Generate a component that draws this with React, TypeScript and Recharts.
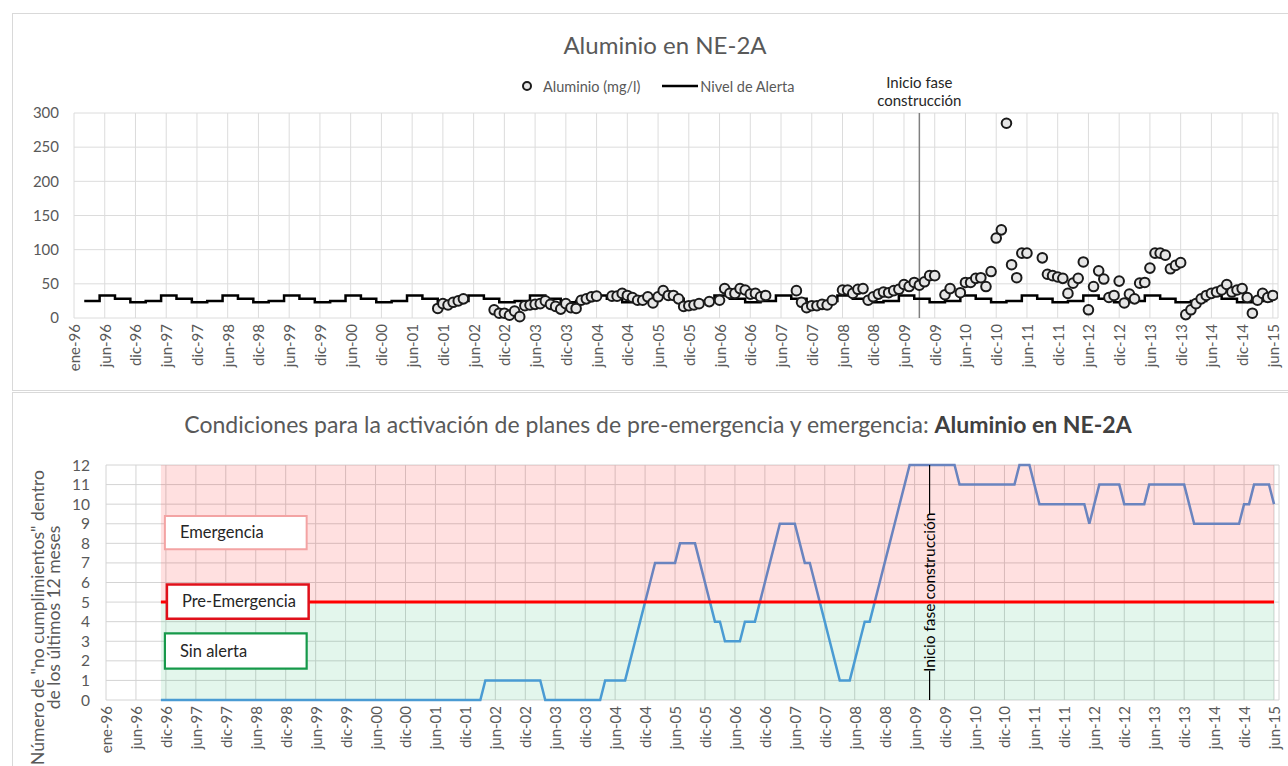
import React from "react"
import {
  ComposedChart,
  Line,
  Scatter,
  XAxis,
  YAxis,
  CartesianGrid,
  ReferenceLine,
  ReferenceArea
} from "recharts"

const FONT = "Lato, 'Open Sans', sans-serif"
const GRIS = "#595959"

// eje X: mes 0 = ene-96, una etiqueta cada 6 meses
const etiquetasX = [
  "ene-96", "jun-96", "dic-96", "jun-97", "dic-97", "jun-98", "dic-98", "jun-99", "dic-99",
  "jun-00", "dic-00", "jun-01", "dic-01", "jun-02", "dic-02", "jun-03", "dic-03", "jun-04",
  "dic-04", "jun-05", "dic-05", "jun-06", "dic-06", "jun-07", "dic-07", "jun-08", "dic-08",
  "jun-09", "dic-09", "jun-10", "dic-10", "jun-11", "dic-11", "jun-12", "dic-12", "jun-13",
  "dic-13", "jun-14", "dic-14", "jun-15"
]
const ticksX = etiquetasX.map((_, i) => i * 6)
const ticksAl = [0, 50, 100, 150, 200, 250, 300]
const ticksInc = [0, 1, 2, 3, 4, 5, 6, 7, 8, 9, 10, 11, 12]

const mesInicioObra = 165 // oct-09

// Aluminio (mg/l), mensual desde dic-01 (mes 71); null = sin muestra
const inicioAluminio = 71
const aluminio = [
  14, 21, 19, 23, 25, 28, null, null, null, null, null, 12, // dic-01 .. nov-02
  7, 7, 4, 10, 2, 18, 19, 20, 21, 25, 20, 17,               // dic-02 .. nov-03
  13, 21, 15, 14, 26, 28, 31, 32, null, null, 32, 32,       // dic-03 .. nov-04
  36, 33, 30, 26, 26, 31, 22, 31, 40, 33, 33, 28,           // dic-04 .. nov-05
  17, 18, 19, 21, null, 24, null, 26, 43, 36, 36, 43,       // dic-05 .. nov-06
  41, 35, 36, 31, 33, null, null, null, null, null, 40, 23, // dic-06 .. nov-07
  15, 18, 18, 20, 19, 26, null, 41, 41, 36, 42, 43,         // dic-07 .. nov-08
  26, 31, 35, 38, 37, 40, 42, 49, 46, 52, 48, 53,           // dic-08 .. nov-09
  62, 62, null, 34, 43, null, 37, 52, 52, 58, 59, 46,       // dic-09 .. nov-10
  68, 117, 129, 285, 78, 59, 95, 95, null, null, 88, 64,    // dic-10 .. nov-11
  62, 60, 58, 36, 51, 58, 82, 12, 46, 69, 57, 30,           // dic-11 .. nov-12
  33, 54, 22, 35, 28, 51, 52, 73, 95, 95, 92, 72,           // dic-12 .. nov-13
  77, 81, 5, 12, 21, 28, 33, 36, 38, 41, 49, 38,            // dic-13 .. nov-14
  41, 43, 30, 7, 26, 36, 30, 33                             // dic-14 .. jun-15
]

// Nivel de alerta estacional (mar-may, jun-ago, sep-nov, dic-feb), desde mar-96
const inicioAlerta = 2
const nivelAlerta = [
  25, 33, 28, 23, // 1996
  25, 33, 28, 23, // 1997
  25, 33, 28, 23, // 1998
  25, 33, 28, 23, // 1999
  25, 33, 28, 23, // 2000
  25, 33, 28, 23, // 2001
  25, 33, 28, 23, // 2002
  25, 33, 28, 23, // 2003
  25, 33, 28, 23, // 2004
  25, 33, 28, 23, // 2005
  25, 33, 28, 23, // 2006
  25, 33, 28, 23, // 2007
  25, 33, 28, 23, // 2008
  25, 33, 28, 23, // 2009
  25, 33, 28, 23, // 2010
  25, 33, 28, 23, // 2011
  25, 33, 28, 23, // 2012
  25, 33, 28, 23, // 2013
  25, 33, 28, 23, // 2014
  25              // 2015
]
const mesFinal = 234

// Nº de "no cumplimientos" en los últimos 12 meses, mensual desde dic-96 (mes 11)
const inicioIncumplimientos = 11
const incumplimientos = [
  0,                                      // dic-96
  0, 0, 0, 0, 0, 0, 0, 0, 0, 0, 0, 0,     // 1997
  0, 0, 0, 0, 0, 0, 0, 0, 0, 0, 0, 0,     // 1998
  0, 0, 0, 0, 0, 0, 0, 0, 0, 0, 0, 0,     // 1999
  0, 0, 0, 0, 0, 0, 0, 0, 0, 0, 0, 0,     // 2000
  0, 0, 0, 0, 0, 0, 0, 0, 0, 0, 0, 0,     // 2001
  0, 0, 0, 0, 1, 1, 1, 1, 1, 1, 1, 1,     // 2002
  1, 1, 1, 1, 0, 0, 0, 0, 0, 0, 0, 0,     // 2003
  0, 0, 0, 0, 1, 1, 1, 1, 1, 2, 3, 4,     // 2004
  5, 6, 7, 7, 7, 7, 7, 8, 8, 8, 8, 7,     // 2005
  6, 5, 4, 4, 3, 3, 3, 3, 4, 4, 4, 5,     // 2006
  6, 7, 8, 9, 9, 9, 9, 8, 7, 7, 6, 5,     // 2007
  4, 3, 2, 1, 1, 1, 2, 3, 4, 4, 5, 6,     // 2008
  7, 8, 9, 10, 11, 12, 12, 12, 12, 12, 12, 12, // 2009
  12, 12, 12, 11, 11, 11, 11, 11, 11, 11, 11, 11, // 2010
  11, 11, 11, 12, 12, 12, 11, 10, 10, 10, 10, 10, // 2011
  10, 10, 10, 10, 10, 9, 10, 11, 11, 11, 11, 11,  // 2012
  10, 10, 10, 10, 10, 11, 11, 11, 11, 11, 11, 11, // 2013
  11, 10, 9, 9, 9, 9, 9, 9, 9, 9, 9, 9,           // 2014
  10, 10, 11, 11, 11, 11, 10                      // 2015
]

const aluminioData = aluminio
  .map((v, i) => ({ mes: inicioAluminio + i, valor: v }))
  .filter((d) => d.valor !== null)

const alertaData = [
  ...nivelAlerta.map((v, k) => ({ mes: inicioAlerta + 3 * k, nivel: v })),
  { mes: mesFinal, nivel: nivelAlerta[nivelAlerta.length - 1] }
]

const incData = incumplimientos.map((v, i) => ({ mes: inicioIncumplimientos + i, n: v }))

const TickX = (props: any) => {
  const { x, y, payload } = props
  const label = etiquetasX[Math.round(payload.value / 6)]
  const ty = y + 6
  return (
    <text
      x={x}
      y={ty}
      transform={`rotate(-90 ${x} ${ty})`}
      textAnchor="end"
      dominantBaseline="central"
      fill={GRIS}
      fontSize={15}
      fontFamily={FONT}
    >
      {label}
    </text>
  )
}

const EtiquetaInicioTop = (props: any) => {
  const { viewBox } = props
  const x = viewBox.x
  const y = viewBox.y
  return (
    <text textAnchor="middle" fill="#262626" fontSize={15} fontFamily={FONT}>
      <tspan x={x} y={y - 25}>Inicio fase</tspan>
      <tspan x={x} y={y - 7}>construcción</tspan>
    </text>
  )
}

const EtiquetaEjeY = (props: any) => {
  const { viewBox } = props
  const cx = viewBox.x + 33
  const cy = viewBox.y + viewBox.height / 2 + 35
  return (
    <text
      transform={`rotate(-90 ${cx} ${cy})`}
      textAnchor="middle"
      fill={GRIS}
      fontSize={17.5}
      fontFamily={FONT}
    >
      <tspan x={cx} y={cy - 1}>Número de "no cumplimientos" dentro</tspan>
      <tspan x={cx} y={cy + 15}>de los últimos 12 meses</tspan>
    </text>
  )
}

const Circulo = (props: any) => {
  const { cx, cy } = props
  if (cx == null || cy == null) return null
  return <circle cx={cx} cy={cy} r={4.8} fill="#e6e6e6" stroke="#1a1a1a" strokeWidth={2} />
}

const etiquetaCaja = (texto: string) => ({
  value: texto,
  position: "insideLeft" as const,
  offset: 15,
  fill: "#262626",
  fontSize: 16.5,
  fontFamily: FONT
})

function GraficoAluminio() {
  return (
    <ComposedChart width={1276} height={377} margin={{ top: 100, right: 10, bottom: 12, left: 0 }}>
      <CartesianGrid stroke="#dcdcdc" />
      <XAxis
        type="number"
        dataKey="mes"
        domain={[0, 235]}
        ticks={ticksX}
        interval={0}
        allowDataOverflow
        axisLine={false}
        tickLine={false}
        tickSize={0}
        tickMargin={0}
        height={60}
        tick={<TickX />}
      />
      <YAxis
        type="number"
        domain={[0, 300]}
        ticks={ticksAl}
        width={62}
        axisLine={false}
        tickLine={false}
        tickSize={0}
        tickMargin={15}
        tick={{ fill: GRIS, fontSize: 15, fontFamily: FONT }}
      />
      <ReferenceLine x={mesInicioObra} stroke="#808080" strokeWidth={1.5} label={<EtiquetaInicioTop />} />
      <Line
        data={alertaData}
        dataKey="nivel"
        type="stepAfter"
        stroke="#000"
        strokeWidth={2.5}
        dot={false}
        activeDot={false}
        isAnimationActive={false}
      />
      <Scatter data={aluminioData} dataKey="valor" shape={<Circulo />} isAnimationActive={false} />
    </ComposedChart>
  )
}

function GraficoCondiciones() {
  return (
    <ComposedChart width={1276} height={374} data={incData} margin={{ top: 73, right: 9, bottom: 6, left: 0 }}>
      <defs>
        <linearGradient id="gradLinea" x1="0" y1="0" x2="0" y2="1">
          <stop offset="0.583" stopColor="#6a84bf" />
          <stop offset="0.583" stopColor="#4a9bd3" />
        </linearGradient>
      </defs>
      <CartesianGrid stroke="#d4d4d4" />
      <ReferenceArea x1={inicioIncumplimientos} x2={mesFinal} y1={5} y2={12} fill="#ff0000" fillOpacity={0.12} stroke="none" zIndex={50} />
      <ReferenceArea x1={inicioIncumplimientos} x2={mesFinal} y1={0} y2={5} fill="#00b050" fillOpacity={0.11} stroke="none" zIndex={50} />
      <XAxis
        type="number"
        dataKey="mes"
        domain={[0, 235]}
        ticks={ticksX}
        interval={0}
        allowDataOverflow
        axisLine={false}
        tickLine={false}
        tickSize={0}
        tickMargin={0}
        height={60}
        tick={<TickX />}
      />
      <YAxis
        type="number"
        domain={[0, 12]}
        ticks={ticksInc}
        interval={0}
        width={94}
        axisLine={false}
        tickLine={false}
        tickSize={0}
        tickMargin={16}
        tick={{ fill: GRIS, fontSize: 15.5, fontFamily: FONT }}
        label={<EtiquetaEjeY />}
      />
      <Line
        dataKey="n"
        type="linear"
        stroke="url(#gradLinea)"
        strokeWidth={2.5}
        dot={false}
        activeDot={false}
        isAnimationActive={false}
      />
      <ReferenceLine
        segment={[{ x: inicioIncumplimientos, y: 5 }, { x: mesFinal, y: 5 }]}
        stroke="#ff0000"
        strokeWidth={3}
        zIndex={450}
      />
      <ReferenceLine segment={[{ x: mesInicioObra, y: 12 }, { x: mesInicioObra, y: 9.5 }]} stroke="#000" strokeWidth={1.2} zIndex={450} />
      <ReferenceLine segment={[{ x: mesInicioObra, y: 1.5 }, { x: mesInicioObra, y: 0 }]} stroke="#000" strokeWidth={1.2} zIndex={450} />
      <ReferenceLine
        segment={[{ x: mesInicioObra, y: 1.5 }, { x: mesInicioObra, y: 9.5 }]}
        stroke="none"
        zIndex={450}
        label={{ value: "Inicio fase construcción", position: "center", angle: -90, fill: "#000", fontSize: 15.5, fontFamily: FONT }}
      />
      <ReferenceArea x1={11.8} x2={40.2} y1={7.7} y2={9.4} fill="#fff" fillOpacity={1} stroke="#f3a3a3" strokeWidth={2} zIndex={500} label={etiquetaCaja("Emergencia")} />
      <ReferenceArea x1={12.2} x2={40.6} y1={4.15} y2={5.9} fill="#fff" fillOpacity={1} stroke="#e0101a" strokeWidth={2.5} zIndex={500} label={etiquetaCaja("Pre-Emergencia")} />
      <ReferenceArea x1={11.8} x2={40.2} y1={1.6} y2={3.4} fill="#fff" fillOpacity={1} stroke="#16994a" strokeWidth={2.2} zIndex={500} label={etiquetaCaja("Sin alerta")} />
    </ComposedChart>
  )
}

export default function App() {
  return (
    <div
      style={{
        position: "absolute",
        left: 0,
        top: 0,
        width: 1288,
        height: 766,
        overflow: "hidden",
        background: "#fff",
        fontFamily: FONT
      }}
    >
      <div style={{ position: "absolute", left: 12, top: 13, width: 1300, height: 378, border: "1px solid #d9d9d9", boxSizing: "border-box" }} />
      <div style={{ position: "absolute", left: 12, top: 392, width: 1300, height: 400, border: "1px solid #d9d9d9", boxSizing: "border-box" }} />

      <div style={{ position: "absolute", left: 12, top: 13 }}>
        <GraficoAluminio />
      </div>
      <div style={{ position: "absolute", left: 12, top: 392 }}>
        <GraficoCondiciones />
      </div>

      <div style={{ position: "absolute", left: 365, top: 31, width: 600, textAlign: "center", fontSize: 24, lineHeight: "28px", color: GRIS }}>
        Aluminio en NE-2A
      </div>

      <div style={{ position: "absolute", left: 520, top: 78, height: 16, display: "flex", alignItems: "center", fontSize: 14.5, color: GRIS, whiteSpace: "nowrap" }}>
        <svg width={14} height={14}>
          <circle cx={7} cy={7} r={4} fill="#e6e6e6" stroke="#1a1a1a" strokeWidth={2} />
        </svg>
        <span style={{ marginLeft: 9 }}>Aluminio (mg/l)</span>
        <svg width={36} height={10} style={{ marginLeft: 22 }}>
          <line x1={0} y1={5} x2={36} y2={5} stroke="#000" strokeWidth={2.5} />
        </svg>
        <span style={{ marginLeft: 2 }}>Nivel de Alerta</span>
      </div>

      <div style={{ position: "absolute", left: 108, top: 410, width: 1100, textAlign: "center", fontSize: 23, lineHeight: "28px", color: GRIS, whiteSpace: "nowrap" }}>
        Condiciones para la activación de planes de pre-emergencia y emergencia:{" "}
        <span style={{ fontWeight: 700, color: "#404040" }}>Aluminio en NE-2A</span>
      </div>
    </div>
  )
}
